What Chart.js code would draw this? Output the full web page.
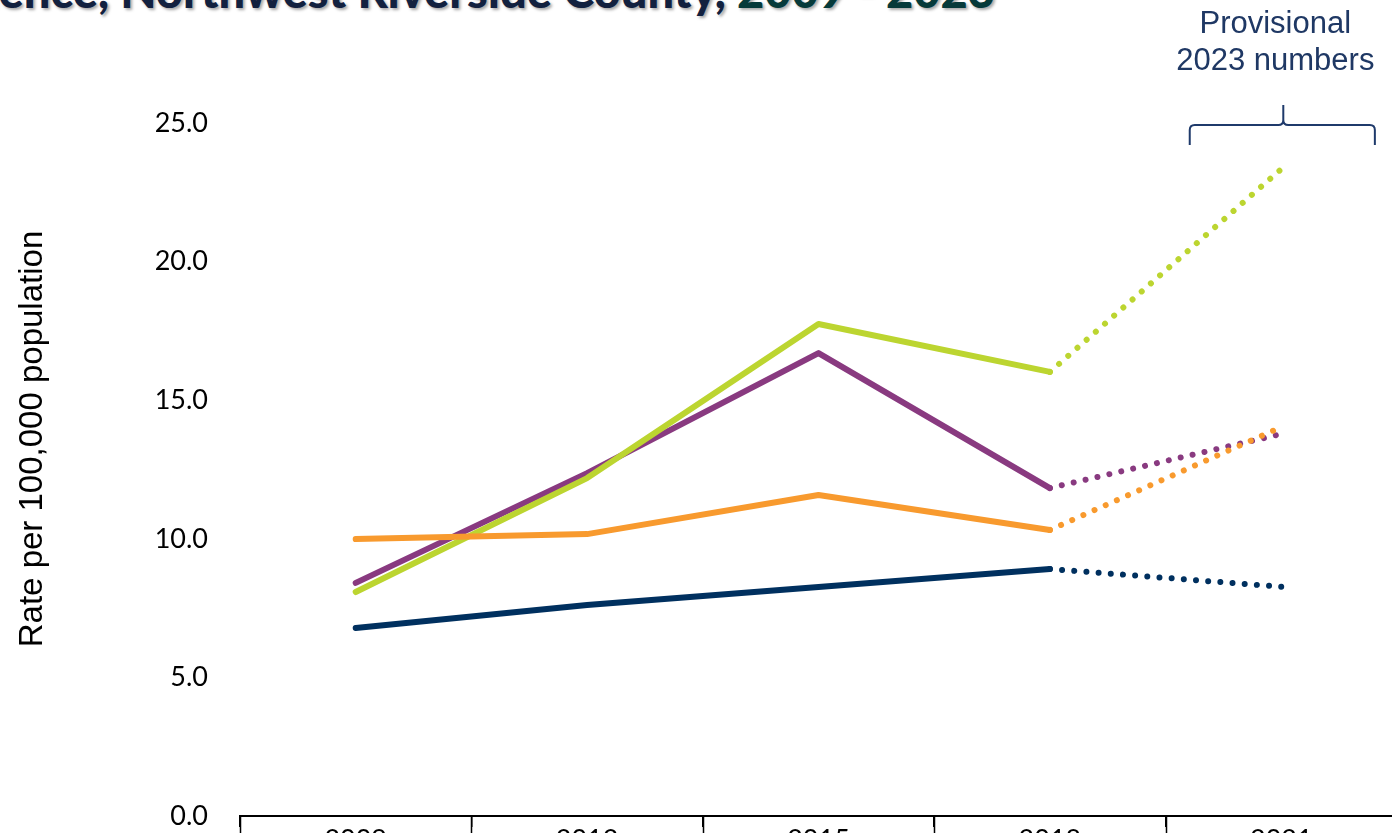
<!DOCTYPE html>
<html>
<head>
<meta charset="utf-8">
<script src="https://cdn.jsdelivr.net/npm/chart.js@4.4.1/dist/chart.umd.min.js"></script>
<style>
  html, body { margin: 0; padding: 0; background: #fff; overflow: hidden; width: 1392px; height: 833px; }
  #wrap { position: absolute; left: 0; top: 0; width: 1397px; height: 880px; }
  #title {
    position: absolute; top: -33px; right: calc(1392px - 995px);
    white-space: nowrap; font-family: Lato, "Open Sans", sans-serif; font-weight: 900;
    font-size: 47px; line-height: 47px; color: #12213F;
    text-shadow: 2px 2px 3px rgba(0,0,0,0.35);
  }
  #title .yrs { color: #063A3A; }
</style>
</head>
<body>
<div id="title">Incidence, Northwest Riverside County, <span class="yrs">2009 - 2023</span></div>
<div id="wrap"><canvas id="c" width="1397" height="880"></canvas></div>
<script>
const categories = ["2009", "2012", "2015", "2018", "2021"];
const seriesNavy   = [6.78, 7.61, 8.26, 8.91, 8.27];
const seriesOrange = [9.99, 10.17, 11.58, 10.32, 14.03];
const seriesPurple = [8.41, 12.37, 16.70, 11.83, 13.78];
const seriesGreen  = [8.08, 12.19, 17.75, 16.02, 23.34];
const yTicks = [0, 5, 10, 15, 20, 25];
const yTitle = "Rate per 100,000 population";
const noteLines = ["Provisional", "2023 numbers"];

const dotted = ctx => ctx.p0DataIndex === 3 ? [0.01, 12.2] : undefined;
function ds(label, data, color) {
  return {
    label, data, borderColor: color, backgroundColor: color,
    borderWidth: 6, borderCapStyle: 'round', borderJoinStyle: 'round',
    pointRadius: 0, pointHoverRadius: 0, tension: 0, fill: false,
    segment: { borderDash: dotted }
  };
}

const overlay = {
  id: 'overlay',
  afterDraw(chart) {
    const c = chart.ctx, x = chart.scales.x, a = chart.chartArea;
    // category separators below the axis
    const step = x.getPixelForValue(1) - x.getPixelForValue(0);
    c.save();
    c.strokeStyle = '#000';
    c.lineWidth = 1.5;
    c.beginPath();
    for (let i = 0; i <= categories.length; i++) {
      const px = Math.round(x.getPixelForValue(i) - step / 2) + 0.5;
      c.moveTo(px, a.bottom);
      c.lineTo(px, chart.height);
    }
    c.stroke();
    c.restore();
    // y axis title
    c.save();
    c.font = '33px "Liberation Sans", Arial, sans-serif';
    c.fillStyle = '#000';
    c.textAlign = 'center';
    c.textBaseline = 'alphabetic';
    c.translate(42, 439);
    c.rotate(-Math.PI / 2);
    c.fillText(yTitle, 0, 0);
    c.restore();
    // bracket over the provisional period
    const cx = x.getPixelForValue(4);
    const half = step * 0.4;
    const l = cx - half + 1, r = cx + half + 1, m = cx + 2;
    const yb = 145, yh = 125, yt = 105, rad = 5;
    c.save();
    c.strokeStyle = '#1F3A6B';
    c.lineWidth = 2;
    c.beginPath();
    c.moveTo(l, yb);
    c.lineTo(l, yh + rad);
    c.quadraticCurveTo(l, yh, l + rad, yh);
    c.lineTo(m - rad, yh);
    c.quadraticCurveTo(m, yh, m, yh - rad);
    c.lineTo(m, yt);
    c.moveTo(m, yh - rad);
    c.quadraticCurveTo(m, yh, m + rad, yh);
    c.lineTo(r - rad, yh);
    c.quadraticCurveTo(r, yh, r, yh + rad);
    c.lineTo(r, yb);
    c.stroke();
    // note text
    c.font = '31px "Liberation Sans", Arial, sans-serif';
    c.textAlign = 'center';
    c.textBaseline = 'alphabetic';
    c.fillStyle = '#1F3864';
    c.fillText(noteLines[0], cx - 6, 33);
    c.fillText(noteLines[1], cx - 6, 70);
    c.restore();
  }
};

new Chart(document.getElementById('c'), {
  type: 'line',
  data: {
    labels: categories,
    datasets: [
      ds('Series 1', seriesOrange, '#F89A2E'),
      ds('Series 2', seriesGreen, '#BCD530'),
      ds('Series 3', seriesPurple, '#893A80'),
      ds('Series 4', seriesNavy, '#00305F')
    ]
  },
  options: {
    responsive: false, animation: false, devicePixelRatio: 1,
    layout: { padding: { top: 123, left: 0, right: 0, bottom: 0 } },
    plugins: { legend: { display: false }, tooltip: { enabled: false }, title: { display: false } },
    scales: {
      x: {
        offset: true,
        grid: { display: true, drawOnChartArea: false, offset: true, color: '#000', lineWidth: 1.5, tickLength: 11, drawTicks: true },
        border: { display: true, color: '#000', width: 2 },
        ticks: { color: '#000', font: { family: 'Lato', size: 27, lineHeight: 1.0 }, padding: 0, maxRotation: 0, autoSkip: false },
        afterFit(s) { s.height = 64; }
      },
      y: {
        min: 0, max: 25,
        afterBuildTicks(s) { s.ticks = yTicks.map(v => ({ value: v })); },
        grid: { display: false, drawTicks: false },
        border: { display: false },
        ticks: { color: '#000', font: { family: 'Lato', size: 27 }, padding: 32, callback: v => Number(v).toFixed(1) },
        afterFit(s) { s.width = 240; }
      }
    }
  },
  plugins: [overlay]
});
</script>
</body>
</html>
